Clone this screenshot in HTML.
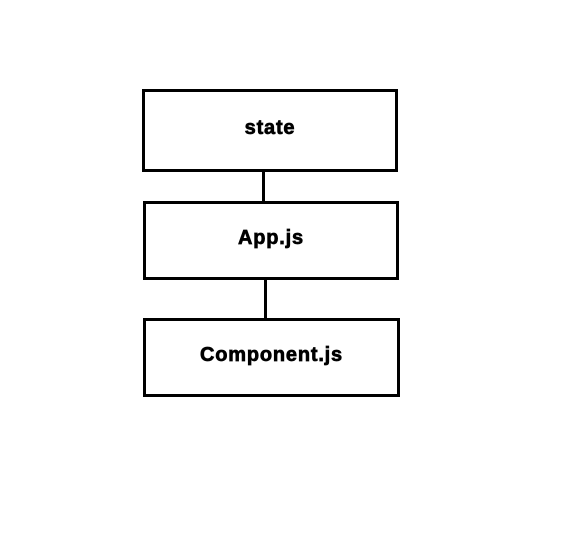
<!DOCTYPE html>
<html><head><style>
body{margin:0;width:588px;height:552px;background:#fff;position:relative;overflow:hidden;font-family:"Liberation Sans",sans-serif}
.b{position:absolute;border:3px solid #000;box-sizing:border-box;display:flex;align-items:center;justify-content:center;font-weight:bold;font-size:20px;letter-spacing:0.8px;-webkit-text-stroke:0.7px #000;color:#000;padding-bottom:4px}
.l{position:absolute;background:#000;width:3px}
</style></head><body>
<div class="b" style="left:142px;top:89px;width:256px;height:83px">state</div>
<div class="l" style="left:262px;top:172px;height:30px"></div>
<div class="b" style="left:143px;top:201px;width:256px;height:79px">App.js</div>
<div class="l" style="left:264px;top:280px;height:39px"></div>
<div class="b" style="left:143px;top:318px;width:257px;height:79px">Component.js</div>
</body></html>
